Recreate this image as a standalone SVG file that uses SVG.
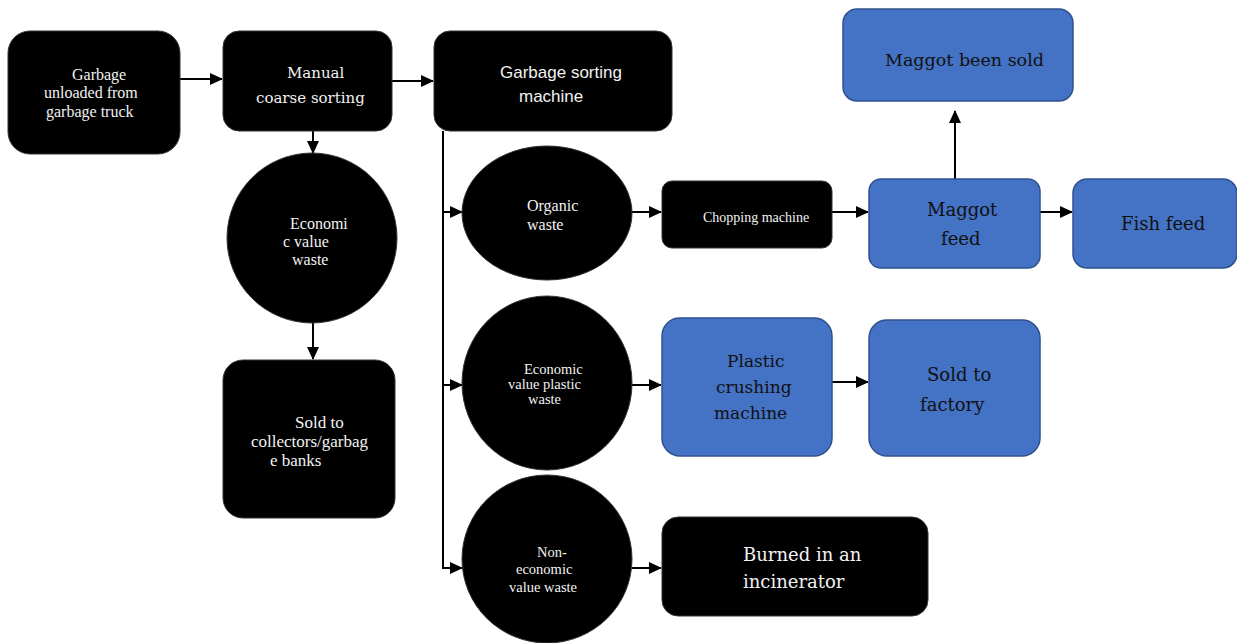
<svg xmlns="http://www.w3.org/2000/svg" width="1237" height="643" viewBox="0 0 1237 643">
<defs>
<marker id="ah" markerWidth="13" markerHeight="12" refX="12" refY="6" orient="auto" markerUnits="userSpaceOnUse">
<path d="M0,0 L13,6 L0,12 Z" fill="#000"/>
</marker>
<style>
.blk{fill:#000;stroke:#333;stroke-width:1}
.blu{fill:#4472C4;stroke:#2F528F;stroke-width:1.5}
.wt{fill:#f2f2f2;text-anchor:start;font-family:"Liberation Serif","Times New Roman",serif}
.wc{fill:#f2f2f2;text-anchor:start;font-family:"DejaVu Serif","Liberation Serif",serif}
.bt{fill:#111;text-anchor:start;font-family:"DejaVu Serif","Liberation Serif",serif}
.st{fill:#f2f2f2;text-anchor:start;font-family:"Liberation Sans",Arial,sans-serif}
.ln{stroke:#000;stroke-width:2;fill:none}
</style>
</defs>
<rect width="1237" height="643" fill="#fff"/>
<g id="connectors">
<line class="ln" x1="180" y1="79" x2="222" y2="79" marker-end="url(#ah)"/>
<line class="ln" x1="392" y1="81" x2="433" y2="81" marker-end="url(#ah)"/>
<line class="ln" x1="313" y1="131" x2="313" y2="153" marker-end="url(#ah)"/>
<line class="ln" x1="313" y1="323" x2="313" y2="359" marker-end="url(#ah)"/>
<polyline class="ln" points="443,131 443,568 462,568" marker-end="url(#ah)"/>
<line class="ln" x1="443" y1="212" x2="462" y2="212" marker-end="url(#ah)"/>
<line class="ln" x1="443" y1="385" x2="462" y2="385" marker-end="url(#ah)"/>
<line class="ln" x1="632" y1="212" x2="661" y2="212" marker-end="url(#ah)"/>
<line class="ln" x1="832" y1="212" x2="868" y2="212" marker-end="url(#ah)"/>
<line class="ln" x1="955" y1="179" x2="955" y2="111" marker-end="url(#ah)"/>
<line class="ln" x1="1040" y1="212" x2="1072" y2="212" marker-end="url(#ah)"/>
<line class="ln" x1="632" y1="385" x2="661" y2="385" marker-end="url(#ah)"/>
<line class="ln" x1="832" y1="382" x2="868" y2="382" marker-end="url(#ah)"/>
<line class="ln" x1="632" y1="568" x2="661" y2="568" marker-end="url(#ah)"/>
</g>
<g id="n-garbage-unloaded">
<rect class="blk" x="8" y="31" width="172" height="123" rx="22"/>
<text class="wt" font-size="16"><tspan x="72" y="80">Garbage</tspan><tspan x="44" y="98">unloaded from</tspan><tspan x="46" y="117">garbage truck</tspan></text>
</g>
<g id="n-manual">
<rect class="blk" x="223" y="31" width="169" height="100" rx="16"/>
<text class="wc" font-size="15"><tspan x="287" y="78">Manual</tspan><tspan x="256" y="103">coarse sorting</tspan></text>
</g>
<g id="n-sorting-machine">
<rect class="blk" x="434" y="31" width="238" height="100" rx="16"/>
<text class="st" font-size="17"><tspan x="500" y="78">Garbage sorting</tspan><tspan x="519" y="102">machine</tspan></text>
</g>
<g id="n-econ-value">
<ellipse class="blk" cx="312" cy="238" rx="85" ry="85"/>
<text class="wt" font-size="16"><tspan x="290" y="229">Economi</tspan><tspan x="283" y="247">c value</tspan><tspan x="292" y="265">waste</tspan></text>
</g>
<g id="n-sold-collectors">
<rect class="blk" x="223" y="360" width="172" height="158" rx="20"/>
<text class="wt" font-size="17"><tspan x="295" y="428">Sold to</tspan><tspan x="251" y="447">collectors/garbag</tspan><tspan x="270" y="466">e banks</tspan></text>
</g>
<g id="n-organic">
<ellipse class="blk" cx="547" cy="213" rx="85" ry="67"/>
<text class="wt" font-size="16"><tspan x="527" y="211">Organic</tspan><tspan x="527" y="230">waste</tspan></text>
</g>
<g id="n-chopping">
<rect class="blk" x="662" y="181" width="170" height="67" rx="10"/>
<text class="wt" font-size="14"><tspan x="703" y="222">Chopping machine</tspan></text>
</g>
<g id="n-maggot-feed">
<rect class="blu" x="869" y="179" width="171" height="89" rx="12"/>
<text class="bt" font-size="18"><tspan x="927" y="216">Maggot</tspan><tspan x="941" y="245">feed</tspan></text>
</g>
<g id="n-maggot-sold">
<rect class="blu" x="843" y="9" width="230" height="92" rx="14"/>
<text class="bt" font-size="17.5"><tspan x="885" y="66">Maggot been sold</tspan></text>
</g>
<g id="n-fish-feed">
<rect class="blu" x="1073" y="179" width="164" height="89" rx="14"/>
<text class="bt" font-size="18"><tspan x="1121" y="230">Fish feed</tspan></text>
</g>
<g id="n-econ-plastic">
<ellipse class="blk" cx="547" cy="383" rx="85" ry="87"/>
<text class="wt" font-size="14.5"><tspan x="524" y="374">Economic</tspan><tspan x="508" y="389">value plastic</tspan><tspan x="528" y="404">waste</tspan></text>
</g>
<g id="n-plastic-crushing">
<rect class="blu" x="662" y="318" width="170" height="138" rx="18"/>
<text class="bt" font-size="17"><tspan x="727" y="367">Plastic</tspan><tspan x="716" y="393">crushing</tspan><tspan x="714" y="419">machine</tspan></text>
</g>
<g id="n-sold-factory">
<rect class="blu" x="869" y="320" width="171" height="136" rx="18"/>
<text class="bt" font-size="18"><tspan x="927" y="381">Sold to</tspan><tspan x="920" y="411">factory</tspan></text>
</g>
<g id="n-non-econ">
<ellipse class="blk" cx="547" cy="559" rx="85" ry="84"/>
<text class="wt" font-size="14.5"><tspan x="537" y="557">Non-</tspan><tspan x="516" y="574">economic</tspan><tspan x="509" y="592">value waste</tspan></text>
</g>
<g id="n-burned">
<rect class="blk" x="662" y="517" width="266" height="99" rx="16"/>
<text class="wc" font-size="18"><tspan x="743" y="561">Burned in an</tspan><tspan x="743" y="588">incinerator</tspan></text>
</g>
</svg>
